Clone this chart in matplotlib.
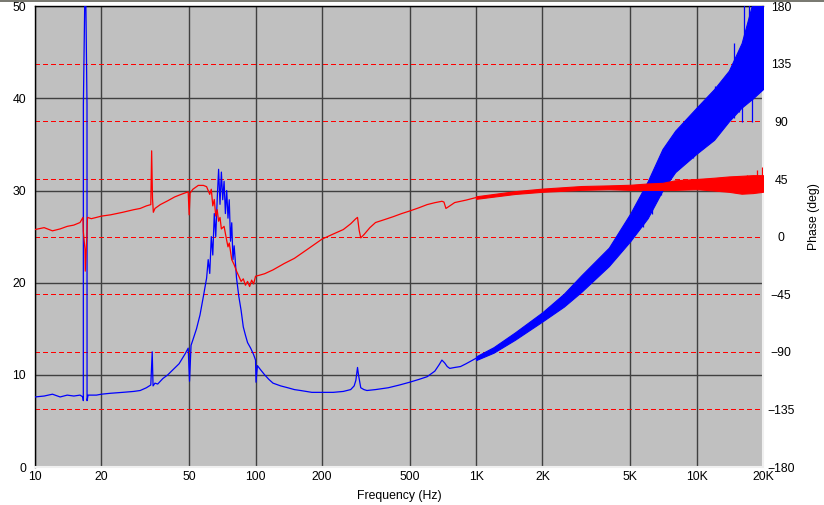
import matplotlib
matplotlib.use("Agg")
import matplotlib.pyplot as plt
from matplotlib.transforms import blended_transform_factory
from matplotlib.patches import Rectangle

plt.rcParams['font.family'] = ['Liberation Sans', 'DejaVu Sans']

# ---------------- data ----------------
# Impedance-like curve (blue, left axis)
blue_f = [10, 11, 12, 13, 14, 15, 16, 16.5, 16.56, 16.57, 16.91, 16.92, 17.21, 17.22, 17.4, 18, 19,
          20, 22, 25, 28, 30, 32, 33.5, 34.0, 34.3, 35, 36, 38, 40, 42, 45, 48, 49.5, 50.2,
          51, 52, 54, 56, 58, 60, 61, 62, 63, 64, 65, 66, 67, 68, 69, 70, 71, 72, 73, 74,
          75, 76, 77, 78, 79, 80, 82, 84, 86, 88, 90, 92, 95, 98, 100, 100.5, 102, 105,
          110, 115, 120, 130, 140, 150, 160, 180, 200, 225, 250, 270, 280, 285, 290, 293,
          300, 310, 320, 350, 400, 450, 500, 550, 600, 650, 680, 700, 720, 740, 760, 800,
          850, 900, 1000]
blue_v = [7.6, 7.7, 7.9, 7.6, 7.8, 7.7, 7.8, 7.6, 7.2, 39.3, 55, 55, 39.3, 7.2, 7.8, 7.8, 7.8,
          7.9, 8.0, 8.1, 8.2, 8.3, 8.6, 8.9, 12.5, 8.8, 9.1, 9.0, 9.6, 10.0, 10.5, 11.2, 12.3, 12.9, 9.3,
          13.2, 13.8, 15.0, 16.5, 18.5, 20.5, 22.5, 21.0, 25.0, 23.0, 27.5, 25.0, 29.0, 32.3, 28.5, 32.0, 29.0, 31.0, 27.5, 30.0,
          27.0, 29.0, 24.5, 26.5, 22.5, 24.0, 20.5, 18.5, 17.0, 15.2, 14.3, 13.5, 12.9, 12.2, 11.6, 9.2, 11.0, 10.6,
          10.0, 9.5, 9.1, 8.8, 8.6, 8.4, 8.3, 8.1, 8.1, 8.1, 8.2, 8.4, 8.8, 9.4, 10.8, 10.0,
          8.6, 8.4, 8.3, 8.4, 8.6, 8.9, 9.2, 9.5, 9.8, 10.4, 11.1, 11.6, 11.3, 10.9, 10.7, 10.8,
          10.9, 11.2, 11.8]

# noisy high-frequency part of the blue curve: lower / upper envelope
blue_hf_f = [1000, 1200, 1500, 2000, 2500, 3000, 4000, 5000, 6000, 7000, 8000, 10000,
             12000, 14000, 16000, 18000, 20000]
blue_hf_lo = [11.6, 12.4, 13.8, 15.8, 17.4, 19.0, 21.8, 24.5, 27.0, 30.0, 32.0, 34.0,
              35.5, 37.5, 39.0, 40.0, 41.0]
blue_hf_hi = [12.0, 13.0, 14.6, 16.8, 18.8, 20.8, 23.8, 27.5, 31.0, 34.5, 36.5, 39.0,
              41.0, 43.0, 46.0, 50.5, 52.0]
# isolated spikes of the blue curve
blue_sp_f = [5700, 6300, 6900, 8400, 9600, 10600, 12100, 13200, 14800, 15500, 16000,
             16400, 17300, 17800, 18300, 19400]
blue_sp_lo = [26.0, 27.5, 29.5, 32.5, 33.5, 34.5, 36.0, 37.0, 37.9, 38.5, 37.4,
              40.0, 41.0, 37.4, 41.0, 41.0]
blue_sp_hi = [27.9, 31.5, 33.5, 36.8, 38.2, 39.5, 41.3, 42.0, 46.0, 45.0, 44.0,
              52.0, 50.5, 48.0, 52.0, 52.0]

# Phase curve (red, right axis, degrees)
red_f = [10, 11, 12, 13, 14, 15, 16, 16.5, 16.56, 16.85, 16.9, 17.2, 17.3, 18, 19, 20, 22,
         25, 28, 30, 32, 33.5, 33.8, 34.1, 34.4, 35, 37, 40, 43, 46, 49.5, 50, 50.5, 52,
         55, 58, 60, 62, 63, 64, 65, 66, 67, 68, 69, 70, 72, 74, 75, 76, 78, 80, 82, 84,
         86, 88, 90, 92, 94, 96, 98, 100, 105, 110, 120, 135, 150, 175, 200, 225, 250,
         270, 285, 290, 295, 300, 310, 330, 350, 380, 420, 460, 500, 550, 600, 650, 700,
         715, 730, 760, 800, 900, 1000]
red_v = [5.5, 7, 4.5, 6, 8, 9, 11, 15, 4, -10, -27, 2, 15, 14, 15, 16, 17,
         19, 21, 22, 24, 25, 67, 30, 19, 22, 25, 28, 31, 33, 35, 17, 34, 37,
         40, 40, 39, 33, 37, 24, 29, 16, 21, 12, 15, 6, 8, -3, -8, -5, -18, -22, -27, -31,
         -35, -33, -38, -35, -39, -34, -37, -31, -30, -29, -26, -21, -17, -9, -2, 2, 5.5,
         10, 14, 15, 5, -1, 1.5, 7, 11, 13, 15.5, 18, 20, 22.5, 25, 26.5, 27.6,
         27, 22, 24, 26.6, 28.5, 30.5]

# noisy high-frequency part of the phase curve
red_hf_f = [1000, 1500, 2000, 3000, 4000, 5000, 6000, 7000, 8000, 10000, 12000, 14000,
            16000, 18000, 20000]
red_hf_lo = [29.5, 33.3, 35.0, 36.5, 37.0, 36.5, 36.5, 36.5, 36.5, 37.0, 36.0, 35.0,
             33.5, 34.0, 35.0]
red_hf_hi = [31.5, 35.5, 37.5, 39.5, 40.0, 40.5, 41.5, 42.0, 44.0, 45.0, 46.0, 47.0,
             47.5, 48.0, 48.0]
red_sp_f = [16890, 18810, 19750]
red_sp_lo = [36.0, 36.0, 36.0]
red_sp_hi = [48.5, 52.4, 54.0]

x_ticks = [10, 20, 50, 100, 200, 500, 1000, 2000, 5000, 10000, 20000]
x_labels = ['10', '20', '50', '100', '200', '500', '1K', '2K', '5K', '10K', '20K']
y_ticks = [0, 10, 20, 30, 40, 50]
phase_ticks = [-180, -135, -90, -45, 0, 45, 90, 135, 180]

# ---------------- figure ----------------
W, H = 824, 505
fig = plt.figure(figsize=(W / 100, H / 100), dpi=100)
fig.patch.set_facecolor('white')
L, R, T, B = 35, 763, 6.2, 467
ax = fig.add_axes([L / W, (H - B) / H, (R - L) / W, (B - T) / H])
ax.set_facecolor('#c0c0c0')
ax2 = ax.twinx()
ax2.patch.set_visible(False)

ax.set_xscale('log')
ax.set_xlim(10, 20000)
ax.set_ylim(0, 50)
ax2.set_ylim(-180, 180)
ax.set_autoscale_on(False)
ax2.set_autoscale_on(False)

ax.set_xticks(x_ticks)
ax.set_xticklabels(x_labels)
ax.xaxis.set_minor_locator(matplotlib.ticker.NullLocator())
ax.set_yticks(y_ticks)
ax2.set_yticks(phase_ticks)

fs = 8.8
ax.tick_params(axis='both', length=0, labelsize=fs, colors='black')
ax.tick_params(axis='x', pad=3)
ax.tick_params(axis='y', pad=6.5)
ax2.tick_params(axis='y', length=0, labelsize=fs, pad=13)
for lab in ax2.get_yticklabels():
    lab.set_horizontalalignment('center')

# solid dark grid
ax.grid(True, which='major', color='#404040', linewidth=1.0, linestyle='-', zorder=0)
ax.set_axisbelow(True)

# dashed red phase grid, placed through the phase axis scale (crisp, no antialiasing)
tr_phase = blended_transform_factory(ax.transAxes, ax2.transData)
for p in phase_ticks[1:-1]:
    ax.plot([0, 1], [p, p], transform=tr_phase, color='#ff0000', linewidth=0.8,
            linestyle=(0, (4, 3)), zorder=1, antialiased=False)

lw = 0.9
# blue curve
ax.plot(blue_f, blue_v, color='#0000ff', linewidth=lw, zorder=3)
ax.fill_between(blue_hf_f, blue_hf_lo, blue_hf_hi, color='#0000ff', linewidth=0.8,
                edgecolor='#0000ff', zorder=3)
ax.vlines(blue_sp_f, blue_sp_lo, blue_sp_hi, colors='#0000ff', linewidth=lw, zorder=3)

# red phase curve drawn through the phase axis scale
trd = ax2.transData
ax.plot(red_f, red_v, color='#ff0000', linewidth=lw, zorder=4, transform=trd)
ax.fill_between(red_hf_f, red_hf_lo, red_hf_hi, color='#ff0000', linewidth=0.8,
                edgecolor='#ff0000', zorder=4, transform=trd)
ax.vlines(red_sp_f, red_sp_lo, red_sp_hi, colors='#ff0000', linewidth=lw, zorder=4,
          transform=trd)

# frame (sunken 3-D look)
for side in ['top', 'left']:
    ax.spines[side].set_color('black')
    ax.spines[side].set_linewidth(1.0)
for side in ['bottom', 'right']:
    ax.spines[side].set_color('#f0f0f0')
    ax.spines[side].set_linewidth(1.5)
for s in ax2.spines.values():
    s.set_visible(False)

ax.set_xlabel('Frequency (Hz)', fontsize=fs)
ax.xaxis.set_label_coords(0.5, -(490 - B) / (B - T))
ax2.set_ylabel('Phase (deg)', fontsize=fs)
ax2.yaxis.set_label_coords((814 - L) / (R - L), (B - 217) / (B - T))
ax2.yaxis.label.set_verticalalignment('center')
ax2.yaxis.label.set_horizontalalignment('center')

# thin grey line at the very top of the window
fig.patches.append(Rectangle((0, 1 - 1.5 / H), 1, 1.5 / H, transform=fig.transFigure,
                             facecolor='#7a7a72', edgecolor='none'))

fig.savefig('out.png', dpi=100)
